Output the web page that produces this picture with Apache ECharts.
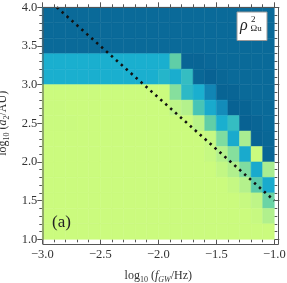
<!DOCTYPE html>
<html>
<head>
<meta charset="utf-8">
<script src="https://cdn.jsdelivr.net/npm/echarts@6/dist/echarts.min.js"></script>
<style>html,body{margin:0;padding:0;background:#fff;}#c{width:287px;height:283px;}</style>
</head>
<body>
<div id="c"></div>
<script>
// cell centres
const xCenters = [-2.95,-2.85,-2.75,-2.65,-2.55,-2.45,-2.35,-2.25,-2.15,-2.05,-1.95,-1.85,-1.75,-1.65,-1.55,-1.45,-1.35,-1.25,-1.15,-1.05];
const yCenters = [3.9,3.7,3.5,3.3,3.1,2.9,2.7,2.5,2.3,2.1,1.9,1.7,1.5,1.3,1.1];
// rho^2 values, rows listed top (y=3.9) to bottom (y=1.1)
const rho2 = [
  [0.1,0.1,0.1,0.1,0.1,0.1,0.1,0.1,0.1,0.1,0.1,0.1,0.1,0.1,0.1,0.1,0.1,0.1,0.1,0.1],
  [0.1,0.1,0.1,0.1,0.1,0.1,0.1,0.1,0.1,0.1,0.1,0.1,0.1,0.1,0.1,0.1,0.1,0.1,0.1,0.1],
  [0.1,0.1,0.1,0.1,0.1,0.1,0.1,0.1,0.1,0.1,0.1,0.1,0.1,0.1,0.1,0.1,0.1,0.1,0.1,0.1],
  [0.4,0.4,0.4,0.4,0.4,0.4,0.4,0.4,0.4,0.4,0.4,0.62,0.07,0.07,0.09,0.1,0.1,0.1,0.1,0.1],
  [0.4,0.4,0.4,0.4,0.4,0.4,0.4,0.4,0.4,0.4,0.44,0.39,0.5,0.08,0.05,0.08,0.1,0.1,0.1,0.1],
  [1,1,1,1,1,1,1,1,1,1,1,0.72,0.47,0.4,0.22,0.06,0.07,0.1,0.1,0.1],
  [0.99,0.99,1,1,1,1,1,1,1,1,1,0.9,0.86,0.55,0.38,0.25,0.05,0.06,0.1,0.1],
  [0.99,0.99,0.99,1,1,1,1,1,1,1,1,1,1,0.88,0.62,0.4,0.5,0.05,0.07,0.1],
  [1,1,1,1,1,1,1,1,1,1,1,1,1,1,0.95,0.7,0.38,0.82,0.06,0.08],
  [1,1,1,1,1,1,1,1,1,1,1,1,1,1,0.96,0.86,0.72,0.38,1,0.07],
  [1,1,1,1,1,1,1,1,1,1,1,1,1,1,1,0.93,0.85,0.7,0.38,0.82],
  [1,1,1,1,1,1,1,1,1,1,1,1,1,1,1,1,0.95,0.86,0.6,0.38],
  [1,1,1,1,1,1,1,1,1,1,1,1,1,1,1,1,1,0.97,0.9,0.65],
  [1,1,1,1,1,1,1,1,1,1,1,1,1,1,1,1,1,1,0.97,0.85],
  [1,1,1,1,1,1,1,1,1,1,1,1,1,1,1,1,1,1,1,1]
];
// dashed reference line
const dashX = [-2.875, -1.0];
const dashY = [4.0, 1.5];
// axis ranges / ticks
const xRange = [-3.0, -1.0];
const yRange = [1.0, 4.0];
const tickStep = 0.5;

const cells = [];
yCenters.forEach((y, r) => xCenters.forEach((x, c) => cells.push([x, y, rho2[r][c]])));
const halfW = Math.abs(xCenters[1] - xCenters[0]) / 2;
const halfH = Math.abs(yCenters[0] - yCenters[1]) / 2;

const FONT = '"Liberation Serif", "DejaVu Serif", serif';
const tickFmt = v => v.toFixed(1).replace('-', '\u2212');
const tickCol = '#555';

function mkX(pos, labels) {
  return {
    type: 'value', position: pos, min: xRange[0], max: xRange[1], interval: tickStep,
    axisLine: {show: false},
    axisTick: {show: true, inside: false, length: 5, lineStyle: {color: tickCol, width: 1}},
    minorTick: {show: true, splitNumber: 5, length: 3, lineStyle: {color: tickCol, width: 1}},
    splitLine: {show: false},
    axisLabel: {show: labels, formatter: tickFmt, fontFamily: FONT, fontSize: 12.5, color: '#333', margin: 9,
                alignMinLabel: 'center', alignMaxLabel: 'center', hideOverlap: false},
    name: labels ? '{n|log}{s|10}{n| (}{i|f}{si|GW}{n|/Hz)}' : '',
    nameLocation: 'middle', nameGap: 29,
    nameTextStyle: {
      rich: {
        n: {fontFamily: FONT, fontSize: 12, color: '#333', lineHeight: 16},
        s: {fontFamily: FONT, fontSize: 8, color: '#333', lineHeight: 10, verticalAlign: 'bottom'},
        i: {fontFamily: FONT, fontSize: 12, fontStyle: 'italic', color: '#333', lineHeight: 16},
        si: {fontFamily: FONT, fontSize: 8, fontStyle: 'italic', color: '#333', lineHeight: 10, verticalAlign: 'bottom'}
      }
    }
  };
}
function mkY(pos, labels) {
  return {
    type: 'value', position: pos, min: yRange[0], max: yRange[1], interval: tickStep,
    axisLine: {show: false},
    axisTick: {show: true, inside: false, length: 5, lineStyle: {color: tickCol, width: 1}},
    minorTick: {show: true, splitNumber: 5, length: 3, lineStyle: {color: tickCol, width: 1}},
    splitLine: {show: false},
    axisLabel: {show: labels, formatter: tickFmt, fontFamily: FONT, fontSize: 12.5, color: '#333', margin: 5,
                verticalAlignMinLabel: 'middle', verticalAlignMaxLabel: 'middle', hideOverlap: false},
    name: labels ? '{n|log}{s|10}{n| (}{i|a}{s|2}{n|/AU)}' : '',
    nameLocation: 'middle', nameGap: 28, nameRotate: 90,
    nameTextStyle: {
      rich: {
        n: {fontFamily: FONT, fontSize: 12, color: '#333', lineHeight: 16},
        s: {fontFamily: FONT, fontSize: 8, color: '#333', lineHeight: 10, verticalAlign: 'bottom'},
        i: {fontFamily: FONT, fontSize: 12, fontStyle: 'italic', color: '#333', lineHeight: 16}
      }
    }
  };
}

const chart = echarts.init(document.getElementById('c'), null, {renderer: 'canvas'});
chart.setOption({
  animation: false,
  backgroundColor: '#fff',
  grid: {left: 42.3, right: 12.7, top: 7.3, bottom: 43.7, containLabel: false, outerBoundsMode: 'none'},
  xAxis: [mkX('bottom', true), mkX('top', false)],
  yAxis: [mkY('left', true), mkY('right', false)],
  visualMap: {
    type: 'continuous', show: false, min: 0, max: 1, dimension: 2, seriesIndex: 0,
    inRange: {color: ['#055a8c','#0a6a99','#1080b0','#1598c4','#1aafcf','#35bdc2','#58cba9','#7edca0','#a4eb93','#bef587','#cbfb7e']}
  },
  series: [
    {
      type: 'custom', xAxisIndex: 0, yAxisIndex: 0, data: cells,
      renderItem: function (params, api) {
        const x = api.value(0), y = api.value(1);
        const p0 = api.coord([x - halfW, y + halfH]);
        const p1 = api.coord([x + halfW, y - halfH]);
        const col = api.visual('color');
        return {type: 'rect', shape: {x: p0[0], y: p0[1], width: p1[0] - p0[0], height: p1[1] - p0[1]},
                style: {fill: col, stroke: col, lineWidth: 0.5}};
      }
    },
    {
      type: 'line', xAxisIndex: 0, yAxisIndex: 0, symbol: 'none', z: 5,
      data: dashX.map((x, i) => [x, dashY[i]]),
      lineStyle: {color: '#111', width: 2.6, type: [2.4, 4.2]}
    }
  ],
  graphic: [
    {type: 'rect', left: 40.5, top: 5, shape: {width: 235.5, height: 237}, style: {fill: 'none', stroke: '#555', lineWidth: 1}, z: 10, silent: true},
    {type: 'rect', left: 236.5, top: 11.5, shape: {width: 30, height: 28.5}, style: {fill: '#fff', stroke: '#999', lineWidth: 1}, z: 10},
    {type: 'text', left: 240, top: 18, style: {text: '\u03c1', font: 'italic 16px ' + FONT, fill: '#222'}, z: 11},
    {type: 'text', left: 251, top: 15, style: {text: '2', font: '9px ' + FONT, fill: '#222'}, z: 11},
    {type: 'text', left: 250.5, top: 24.5, style: {text: '\u03a9u', font: '9px ' + FONT, fill: '#222'}, z: 11},
    {type: 'text', left: 52, top: 214, style: {text: '(a)', font: '17px ' + FONT, fill: '#222'}, z: 11}
  ]
});
</script>
</body>
</html>
